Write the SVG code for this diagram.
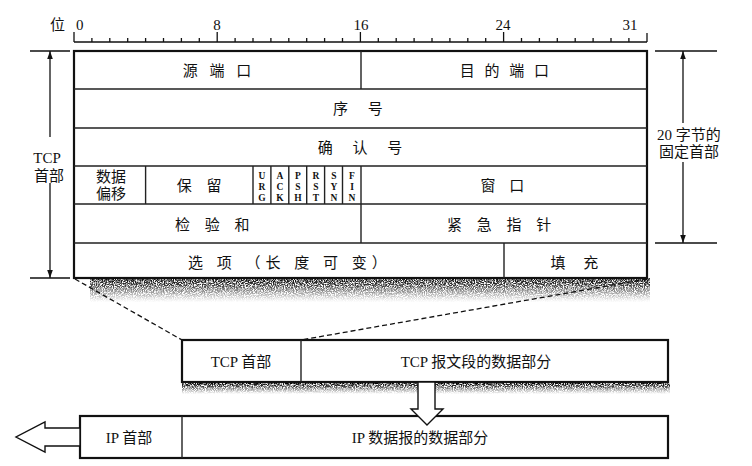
<svg xmlns="http://www.w3.org/2000/svg" width="752" height="466" viewBox="0 0 752 466">
<style>
.t{font-family:"Liberation Serif","Noto Sans CJK SC",serif;font-size:15px;fill:#111;text-anchor:middle}
.n{font-family:"Liberation Serif",serif;font-size:15px;fill:#111}
.f{font-family:"Liberation Serif",serif;font-size:9.5px;font-weight:bold;fill:#111;text-anchor:middle}
.ob{fill:#fff;stroke:#111;stroke-width:2.2}
.in{stroke:#222;stroke-width:1.4;fill:none}
.ln{stroke:#111;stroke-width:1.3;fill:none}
.dash{stroke:#111;stroke-width:1.3;stroke-dasharray:5 3;fill:none}
.blk{fill:#fff;stroke:#111;stroke-width:1.4}
</style>
<defs>
<marker id="ah" viewBox="0 0 10 10" refX="10" refY="5" markerWidth="8" markerHeight="8" orient="auto-start-reverse" markerUnits="userSpaceOnUse">
<path d="M0,1.5 L10,5 L0,8.5 Z" fill="#111"/>
</marker>
<linearGradient id="sg" x1="0" y1="0" x2="0" y2="1">
<stop offset="0" stop-color="#000" stop-opacity="1"/>
<stop offset="0.3" stop-color="#222" stop-opacity="0.9"/>
<stop offset="1" stop-color="#666" stop-opacity="0"/>
</linearGradient>
<filter id="grain" x="0" y="0" width="1" height="1">
<feTurbulence type="fractalNoise" baseFrequency="0.9" numOctaves="2" seed="4" result="n"/>
<feColorMatrix in="n" type="matrix" values="0 0 0 0 0 0 0 0 0 0 0 0 0 0 0 3.4 0 0 0 -1.1" result="a"/>
<feComposite in="SourceGraphic" in2="a" operator="in"/>
</filter>
</defs>
<rect width="752" height="466" fill="#fff"/>

<!-- ruler -->
<g id="ruler">
<text class="n" x="50" y="30" style="font-family:'Liberation Serif','Noto Sans CJK SC',serif">位</text>
<text class="n" x="76" y="30">0</text>
<text class="n" x="217" y="30" text-anchor="middle">8</text>
<text class="n" x="361" y="30" text-anchor="middle">16</text>
<text class="n" x="503" y="30" text-anchor="middle">24</text>
<text class="n" x="630" y="30" text-anchor="middle">31</text>
<path class="ln" d="M74,42 H647 M74,32 V42 M217.2,32 V42 M360.4,32 V42 M503.6,32 V42 M647,33 V42
M91.9,38 V42 M109.8,38 V42 M127.7,38 V42 M145.6,38 V42 M163.5,38 V42 M181.4,38 V42 M199.3,38 V42
M235.1,38 V42 M253,38 V42 M270.9,38 V42 M288.8,38 V42 M306.7,38 V42 M324.6,38 V42 M342.5,38 V42
M378.3,38 V42 M396.2,38 V42 M414.1,38 V42 M432,38 V42 M449.9,38 V42 M467.8,38 V42 M485.7,38 V42
M521.5,38 V42 M539.4,38 V42 M557.3,38 V42 M575.2,38 V42 M593.1,38 V42 M611,38 V42 M628.9,38 V42"/>
</g>

<!-- shadows -->
<g id="shadows" filter="url(#grain)">
<rect x="90" y="278" width="560" height="24" fill="url(#sg)"/>
<rect x="182" y="383" width="488" height="11" fill="url(#sg)"/>
</g>

<!-- TCP header table -->
<g id="tcp-header">
<rect class="ob" x="74" y="51" width="573" height="227"/>
<path class="in" d="M74,89 H647 M74,128 H647 M74,166 H647 M74,204 H647 M74,243 H647
M361,51 V89 M145.6,166 V204 M253,166 V204 M270.9,166 V204 M288.8,166 V204 M306.7,166 V204 M324.6,166 V204 M342.5,166 V204 M361,166 V243 M504,243 V278"/>
</g>
<g id="src-port"><text class="t" x="219" y="76" style="letter-spacing:4px">源 端 口</text></g>
<g id="dst-port"><text class="t" x="506" y="76" style="letter-spacing:3px">目 的 端 口</text></g>
<g id="seq"><text class="t" x="362" y="114" style="letter-spacing:8px">序 号</text></g>
<g id="ack"><text class="t" x="364" y="153" style="letter-spacing:8px">确 认 号</text></g>
<g id="offset"><text class="t" x="111" y="182">数据</text><text class="t" x="111" y="199">偏移</text></g>
<g id="reserved"><text class="t" x="202" y="191" style="letter-spacing:5.5px">保 留</text></g>
<g id="flags">
<text class="f" x="262" y="179">U</text><text class="f" x="262" y="190">R</text><text class="f" x="262" y="201">G</text>
<text class="f" x="280" y="179">A</text><text class="f" x="280" y="190">C</text><text class="f" x="280" y="201">K</text>
<text class="f" x="298" y="179">P</text><text class="f" x="298" y="190">S</text><text class="f" x="298" y="201">H</text>
<text class="f" x="316" y="179">R</text><text class="f" x="316" y="190">S</text><text class="f" x="316" y="201">T</text>
<text class="f" x="334" y="179">S</text><text class="f" x="334" y="190">Y</text><text class="f" x="334" y="201">N</text>
<text class="f" x="352" y="179">F</text><text class="f" x="352" y="190">I</text><text class="f" x="352" y="201">N</text>
</g>
<g id="window"><text class="t" x="505" y="191" style="letter-spacing:5px">窗 口</text></g>
<g id="checksum"><text class="t" x="215" y="230" style="letter-spacing:5.5px">检 验 和</text></g>
<g id="urgent"><text class="t" x="502" y="230" style="letter-spacing:5.5px">紧 急 指 针</text></g>
<g id="options"><text class="t" x="290" y="268" style="letter-spacing:5px">选 项 （长 度 可 变）</text></g>
<g id="padding"><text class="t" x="578" y="268" style="letter-spacing:7px">填 充</text></g>

<!-- side labels -->
<g id="tcp-header-label">
<text class="t" x="47" y="163">TCP</text>
<text class="t" x="49" y="181">首部</text>
</g>
<g id="fixed-label">
<text class="t" x="689" y="140">20 字节的</text>
<text class="t" x="689" y="157">固定首部</text>
</g>

<!-- TCP segment -->
<g id="tcp-segment">
<rect class="ob" x="182" y="340" width="486" height="42"/>
<path class="in" d="M301,340 V382"/>
<text class="t" x="241" y="367">TCP 首部</text>
<text class="t" x="476" y="367">TCP 报文段的数据部分</text>
</g>

<!-- IP datagram -->
<g id="ip-datagram">
<rect class="ob" x="80" y="416" width="588" height="42"/>
<path class="in" d="M182,416 V458"/>
<text class="t" x="129" y="443">IP 首部</text>
<text class="t" x="420" y="443">IP 数据报的数据部分</text>
</g>

<!-- connectors -->
<g id="connectors">
<path class="ln" d="M30,51 H70 M30,278 H70 M655,51 H717 M655,243 H717"/>
<path class="ln" d="M50,137 V51" marker-end="url(#ah)"/>
<path class="ln" d="M50,183 V278" marker-end="url(#ah)"/>
<path class="ln" d="M683,123 V51" marker-end="url(#ah)"/>
<path class="ln" d="M683,162 V243" marker-end="url(#ah)"/>
<path class="dash" d="M75,279 L182,340"/>
<path class="dash" d="M647,279 L301,340"/>
<path class="blk" d="M418,382 V409 H411 L427,425 L443,409 H435 V382 Z"/>
<path class="blk" d="M80,428 H45 V422 L16,437 L45,452 V446 H80 Z"/>
</g>
</svg>
